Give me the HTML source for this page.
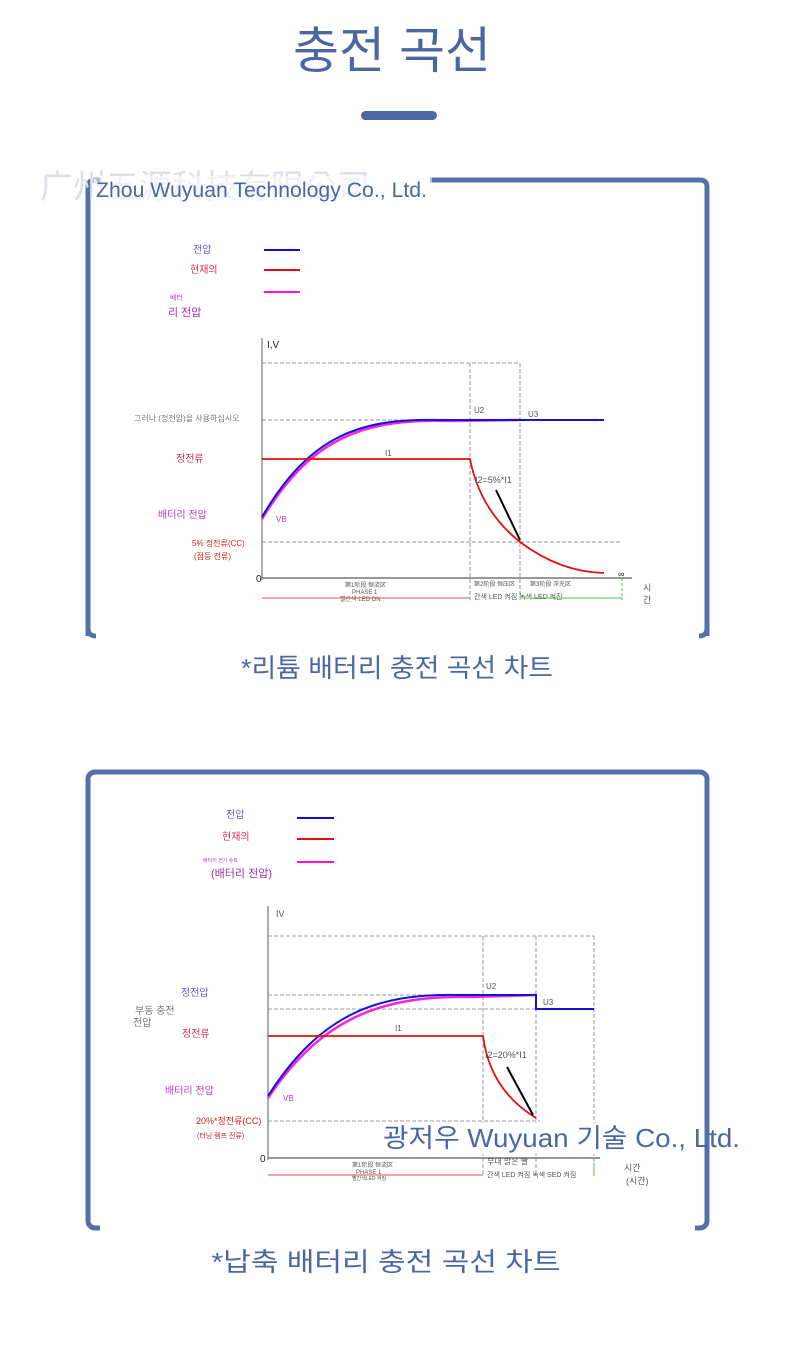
<!DOCTYPE html>
<html><head><meta charset="utf-8"><style>
html,body{margin:0;padding:0;background:#fff;}
svg{display:block;font-family:"Liberation Sans","Noto Sans CJK KR",sans-serif;}
</style></head><body>
<svg width="790" height="1346" viewBox="0 0 790 1346" xmlns="http://www.w3.org/2000/svg">
<rect width="790" height="1346" fill="#fff"/>
<text x="392" y="68" font-size="50" fill="#4b67a3" text-anchor="middle">충전 곡선</text>
<rect x="361" y="111" width="76" height="9" rx="4.5" fill="#4b67a3"/>

<!-- Frame 1 -->
<path d="M430 180 H700 Q707 180 707 187 V636" fill="none" stroke="#5570a8" stroke-width="5"/>
<path d="M88 187 Q88 180 95 180 H100" fill="none" stroke="#5570a8" stroke-width="5"/>
<path d="M88 187 V636" fill="none" stroke="#5570a8" stroke-width="5"/>
<path d="M88 628 Q88 636 96 636 M707 628 Q707 636 699 636" fill="none" stroke="#5570a8" stroke-width="5"/>
<text x="40" y="198" font-size="33" fill="#dcdfe8">广州五源科技有限公司</text>
<rect x="92" y="176" width="340" height="27" fill="#fff" opacity="0.55"/>
<text x="96" y="197" font-size="21" fill="#4b67a3" textLength="331" lengthAdjust="spacingAndGlyphs">Zhou Wuyuan Technology Co., Ltd.</text>

<g font-size="10">
<text x="193" y="253" fill="#6a5acd">전압</text>
<line x1="264" y1="250" x2="300" y2="250" stroke="#1010d0" stroke-width="2"/>
<text x="190" y="273" fill="#cc3355">현재의</text>
<line x1="264" y1="270" x2="300" y2="270" stroke="#e01010" stroke-width="2"/>
<text x="170" y="300" font-size="7" fill="#b040c0">배터</text>
<text x="168" y="316" font-size="11" fill="#9a30b0">리 전압</text>
<line x1="264" y1="292" x2="300" y2="292" stroke="#ff10e0" stroke-width="2"/>
</g>

<g fill="none" stroke="#999" stroke-width="1" stroke-dasharray="4,2">
<path d="M262 363 H520 M470 363 V600 M520 363 V600 M262 420 H470 M262 542 H620"/>
</g>
<line x1="262" y1="338" x2="262" y2="580" stroke="#777" stroke-width="1.2"/>
<line x1="262" y1="578" x2="632" y2="578" stroke="#777" stroke-width="1.5"/>
<text x="267" y="348" font-size="10" fill="#222">I,V</text>
<text x="256" y="582" font-size="10" fill="#222">0</text>
<text x="618" y="577" font-size="9" fill="#222">∞</text>
<path d="M262 519 C310 440 360 418 450 421 L520 420" fill="none" stroke="#ff20e0" stroke-width="2.5"/>
<path d="M262 517 C310 435 360 418 440 420 L604 420" fill="none" stroke="#1515d0" stroke-width="2"/>
<path d="M262 459 H470 Q480 510 520 542 Q560 572 604 573" fill="none" stroke="#e01010" stroke-width="1.8"/>
<line x1="496" y1="490" x2="520" y2="540" stroke="#000" stroke-width="2"/>
<g font-size="8" fill="#555">
<text x="474" y="413">U2</text><text x="528" y="417">U3</text><text x="385" y="456">I1</text>
<text x="475" y="483" font-size="9">I2=5%*I1</text>
<text x="276" y="522" fill="#b040c0">VB</text>
<text x="134" y="421" fill="#777">그러나 (정전압)을 사용하십시오</text>
<text x="176" y="462" font-size="10" fill="#cc3355">정전류</text>
<text x="158" y="518" font-size="10" fill="#b040c0">배터리 전압</text>
<text x="192" y="546" fill="#d02020">5% 정전류(CC)</text>
<text x="194" y="559" fill="#d02020">(점등 전류)</text>
<text x="345" y="587" font-size="6">第1阶段 恒流区</text>
<text x="352" y="594" font-size="6">PHASE 1</text>
<text x="340" y="601" font-size="6">빨간색 LED ON</text>
<text x="474" y="586" font-size="6">第2阶段 恒压区</text>
<text x="530" y="586" font-size="6">第3阶段 浮充区</text>
<text x="474" y="599" font-size="7">간색 LED 켜짐 녹색 LED 켜짐</text>
<text x="643" y="591" font-size="9">시</text><text x="643" y="603" font-size="9">간</text>
</g>
<line x1="262" y1="598" x2="470" y2="598" stroke="#e05050" stroke-width="1"/>
<line x1="520" y1="598" x2="622" y2="598" stroke="#50c050" stroke-width="1"/>
<line x1="622" y1="578" x2="622" y2="600" stroke="#50c050" stroke-width="1" stroke-dasharray="3,2"/>

<text x="397" y="677" font-size="26" fill="#4b67a3" text-anchor="middle" textLength="312" lengthAdjust="spacingAndGlyphs">*리튬 배터리 충전 곡선 차트</text>

<!-- Frame 2 -->
<rect x="88" y="772" width="619" height="456" rx="7" fill="none" stroke="#5570a8" stroke-width="5"/>
<rect x="100" y="1223" width="595" height="9" fill="#fff"/>

<g font-size="10">
<text x="226" y="818" fill="#6a5acd">전압</text>
<line x1="297" y1="818" x2="334" y2="818" stroke="#1010d0" stroke-width="2"/>
<text x="222" y="840" fill="#cc3355">현재의</text>
<line x1="297" y1="839" x2="334" y2="839" stroke="#e01010" stroke-width="2"/>
<text x="203" y="862" font-size="5" fill="#b040c0">배터리 전기 슈트</text>
<text x="211" y="877" font-size="11" fill="#9a30b0">(배터리 전압)</text>
<line x1="297" y1="862" x2="334" y2="862" stroke="#ff10e0" stroke-width="2"/>
</g>

<g fill="none" stroke="#999" stroke-width="1" stroke-dasharray="4,2">
<path d="M268 936 H594 M483 936 V1176 M536 936 V1176 M594 936 V1176 M268 995 H536 M268 1009 H536 M268 1121 H540"/>
</g>
<line x1="268" y1="906" x2="268" y2="1160" stroke="#777" stroke-width="1.2"/>
<line x1="268" y1="1158" x2="600" y2="1158" stroke="#777" stroke-width="1.5"/>
<text x="276" y="917" font-size="9" fill="#555">IV</text>
<text x="260" y="1162" font-size="10" fill="#222">0</text>
<path d="M268 1098 C320 1020 380 995 470 997 L536 995" fill="none" stroke="#ff20e0" stroke-width="2.5"/>
<path d="M268 1096 C320 1015 375 993 460 995 L536 995 V1009 H594" fill="none" stroke="#1515d0" stroke-width="2"/>
<path d="M268 1036 H483 Q490 1090 536 1118" fill="none" stroke="#e01010" stroke-width="1.8"/>
<line x1="507" y1="1067" x2="533" y2="1115" stroke="#000" stroke-width="2"/>
<g font-size="8" fill="#555">
<text x="486" y="989">U2</text><text x="543" y="1005">U3</text><text x="395" y="1031">I1</text>
<text x="485" y="1058" font-size="9">I2=20%*I1</text>
<text x="283" y="1101" fill="#b040c0">VB</text>
<text x="181" y="996" font-size="10" fill="#6a5acd">정전압</text>
<text x="135" y="1014" font-size="10" fill="#777">부동 충전</text>
<text x="133" y="1026" font-size="10" fill="#777">전압</text>
<text x="182" y="1037" font-size="10" fill="#cc3355">정전류</text>
<text x="165" y="1094" font-size="10" fill="#b040c0">배터리 전압</text>
<text x="196" y="1124" font-size="9" fill="#d02020">20%*정전류(CC)</text>
<text x="197" y="1138" font-size="7" fill="#d02020">(터닝 램프 전류)</text>
<text x="352" y="1167" font-size="6">第1阶段 恒流区</text>
<text x="356" y="1174" font-size="6">PHASE 1</text>
<text x="352" y="1180" font-size="5">빨간색LED 켜짐</text>
<text x="487" y="1164" font-size="8">부대 밝은 빨</text>
<text x="487" y="1177" font-size="7">간색 LED 켜짐 녹색 SED 켜짐</text>
<text x="624" y="1171" font-size="9">시간</text><text x="626" y="1184" font-size="9">(시간)</text>
</g>
<line x1="268" y1="1175" x2="483" y2="1175" stroke="#e05050" stroke-width="1"/>
<line x1="594" y1="1158" x2="594" y2="1176" stroke="#50c050" stroke-width="1" stroke-dasharray="3,2"/>
<rect x="371" y="1123" width="333" height="31" fill="#fff"/>
<text x="383" y="1147" font-size="26" fill="#4b67a3" textLength="357" lengthAdjust="spacingAndGlyphs">광저우 Wuyuan 기술 Co., Ltd.</text>

<text x="386" y="1271" font-size="26" fill="#4b67a3" text-anchor="middle" textLength="349" lengthAdjust="spacingAndGlyphs">*납축 배터리 충전 곡선 차트</text>
</svg>
</body></html>
